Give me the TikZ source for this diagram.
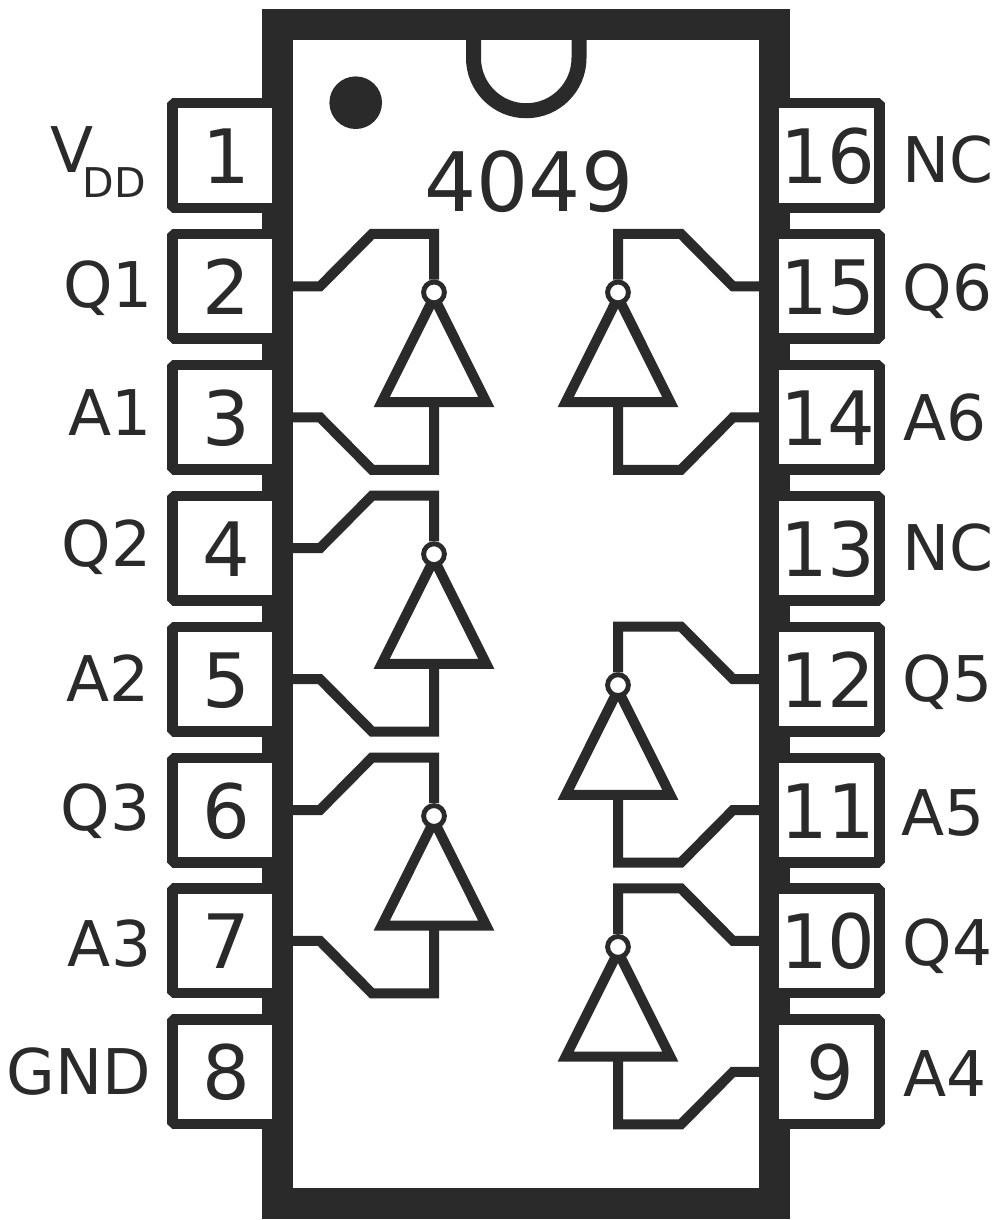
\documentclass[tikz,border=0pt]{standalone}
\usepackage{fontspec}
\setmainfont{DejaVu Sans}
\definecolor{ink}{HTML}{2A2A2A}
\newcommand\fsz[1]{\fontsize{#1}{#1}\selectfont}
\tikzset{
  x=1pt,y=-1pt,
  wire/.style={draw=ink,line width=10pt,line join=miter,miter limit=10},
  pinbox/.style={draw=ink,fill=white,line width=10.5pt,line join=bevel},
  bubble/.style={circle,draw=ink,fill=white,line width=4.9pt,minimum size=20.8pt,inner sep=0pt},
  pinnum/.style={text=ink,font=\fsz{75},inner sep=0pt,anchor=base},
  sigl/.style={text=ink,font=\fsz{63},inner sep=0pt,anchor=base east},
  sigr/.style={text=ink,font=\fsz{63},inner sep=0pt,anchor=base west},
}
% name, stem x, corner x, bend x, edge x, pin row of Q, pin row of A
\newcommand\invgate[7]{%
  \pgfmathsetmacro\yq{155.5+130.9*(#6)}%
  \pgfmathsetmacro\ya{155.5+130.9*(#7)}%
  \pgfmathsetmacro\ybub{\yq+6}%
  \pgfmathsetmacro\yapex{\yq+11}%
  \pgfmathsetmacro\ybase{\yq+115.7}%
  \pgfmathsetmacro\ytop{\yq-52.5}%
  \pgfmathsetmacro\ybot{\ya+52.5}%
  \pgfmathsetmacro\xl{#2-52.3}%
  \pgfmathsetmacro\xr{#2+52.3}%
  \coordinate (#1apex) at (#2,\yapex);
  \coordinate (#1bl) at (\xl,\ybase);
  \coordinate (#1br) at (\xr,\ybase);
  \coordinate (#1base) at (#2,\ybase);
  \coordinate (#1q) at (#5,\yq);
  \coordinate (#1a) at (#5,\ya);
  \draw[wire] (#1apex) -- (#1bl) -- (#1br) -- cycle;
  \node[bubble] (#1bub) at (#2,\ybub) {};
  \draw[wire] (#1q) -- (#4,\yq) -- (#3,\ytop) -- (#2,\ytop) -- (#1bub.north);
  \draw[wire] (#1a) -- (#4,\ya) -- (#3,\ybot) -- (#2,\ybot) -- (#1base);
}
\begin{document}
\begin{tikzpicture}
\useasboundingbox (0,0) rectangle (999,1220);
\fill[white] (0,0) rectangle (999,1220);
% package body
\draw[draw=ink,line width=31pt,line join=miter] (277.5,24.5) rectangle (774.5,1203.5);
% notch
\draw[draw=ink,line width=15pt] (473.5,38) -- (473.5,58) arc[start angle=180,end angle=360,radius=52.75pt] -- (579,38);
% index dot
\fill[ink] (355.7,102.7) circle[radius=26.3pt];
\node[text=ink,font=\fsz{82},inner sep=0pt,anchor=base] (title) at (529,211.7) {4049};
% left pins
\foreach \r/\t in {0/1,1/2,2/3,3/4,4/5,5/6,6/7,7/8}{
  \pgfmathsetmacro\yc{155.5+130.9*\r}
  \pgfmathsetmacro\yt{\yc-52.25}
  \pgfmathsetmacro\yb{\yc+52.25}
  \pgfmathsetmacro\yn{\yc+28}
  \draw[pinbox] (272,\yt) -- (172.5,\yt) -- (172.5,\yb) -- (272,\yb);
  \node[pinnum] (pl\t) at (226,\yn) {\t};
}
% right pins
\foreach \r/\t/\xn in {0/16/828,1/15/828,2/14/828,3/13/828,4/12/828,5/11/828,6/10/828,7/9/830}{
  \pgfmathsetmacro\yc{155.5+130.9*\r}
  \pgfmathsetmacro\yt{\yc-52.25}
  \pgfmathsetmacro\yb{\yc+52.25}
  \pgfmathsetmacro\yn{\yc+28}
  \draw[pinbox] (779,\yt) -- (879.5,\yt) -- (879.5,\yb) -- (779,\yb);
  \node[pinnum] (pr\t) at (\xn,\yn) {\t};
}
% gates
\invgate{ga}{434}{372}{320}{293}{1}{2}
\invgate{gb}{434}{372}{320}{293}{3}{4}
\invgate{gc}{434}{372}{320}{293}{5}{6}
\invgate{gd}{618}{681}{733}{759}{1}{2}
\invgate{ge}{618}{681}{733}{759}{4}{5}
\invgate{gf}{618}{681}{733}{759}{6}{7}
% left labels
\node[text=ink,font=\fsz{63},inner sep=0pt,anchor=base west] (vdd) at (50,172) {V};
\node[text=ink,font=\fsz{41},inner sep=0pt,anchor=base west] (dd) at (82.5,197.5) {DD};
\foreach \n/\t/\x/\y in {q1/Q1/153.2/307.3,a1/A1/152/435,q2/Q2/151.5/566.7,a2/A2/149.7/701,q3/Q3/150.5/830.5,a3/A3/151.3/966.7,gnd/GND/151.6/1094}{
  \node[sigl] (l\n) at (\x,\y) {\t};
}
% right labels
\foreach \n/\t/\x/\y in {nca/NC/902.1/182.7,q6/Q6/902.6/310,a6/A6/903.5/440.7,ncb/NC/902.1/570.7,q5/Q5/902.6/701,a5/A5/901.2/835,q4/Q4/902.6/965,a4/A4/903.5/1096}{
  \node[sigr] (r\n) at (\x,\y) {\t};
}
\end{tikzpicture}
\end{document}
